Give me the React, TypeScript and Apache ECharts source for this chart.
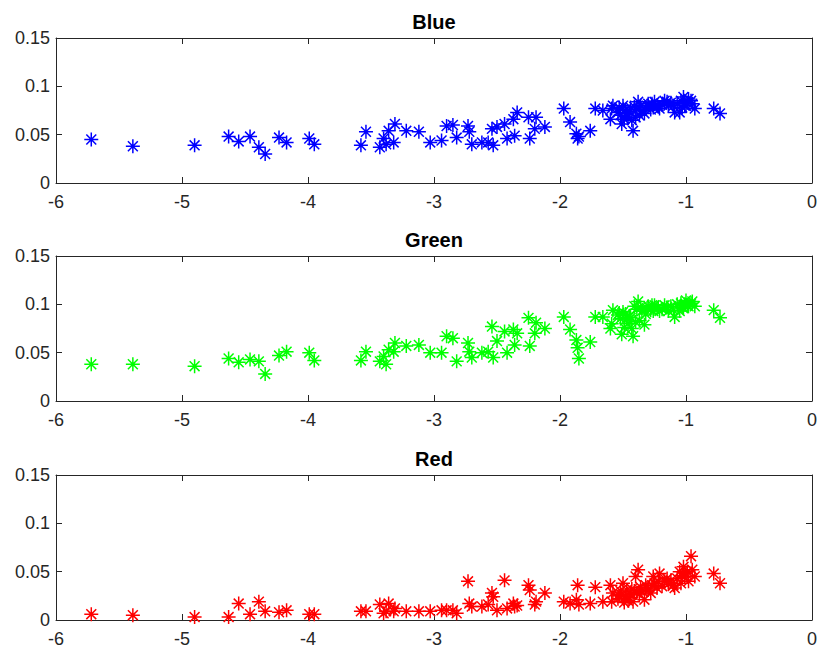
import React, { useEffect, useRef } from "react";
import * as echarts from "echarts";

// Shared x positions (log-scale abscissa) for the three colour channels
const xs = [
  -5.72, -5.39, -4.9, -4.63, -4.55, -4.46, -4.39, -4.34, -4.23, -4.17, -3.99, -3.95,
  -3.58, -3.54, -3.43, -3.4, -3.38, -3.36, -3.32, -3.31, -3.22, -3.12, -3.03, -2.94, -2.9, -2.85, -2.82,
  -2.73, -2.72, -2.7, -2.62, -2.57, -2.54, -2.53, -2.5, -2.44, -2.42, -2.37, -2.36, -2.34, -2.25, -2.24, -2.2, -2.19, -2.12,
  -1.97, -1.92, -1.87, -1.86, -1.85, -1.76, -1.72, -1.66, -1.6, -1.59,
  -1.58, -1.54, -1.52, -1.51, -1.5, -1.48, -1.47, -1.46, -1.44, -1.43,
  -1.42, -1.4, -1.39, -1.38, -1.36, -1.35, -1.33, -1.32, -1.3, -1.28,
  -1.26, -1.25, -1.23, -1.21, -1.19, -1.17, -1.14, -1.12, -1.09, -1.07,
  -1.05, -1.04, -1.02, -1.01, -1.0, -0.98, -0.96, -0.95, -0.93, -0.78,
  -0.73,
  -1.53, -1.49, -1.45, -1.41, -1.37, -1.31, -1.27, -1.22, -1.15, -1.1, -1.03, -0.99,
];

const blueVals = [
  0.045, 0.038, 0.039, 0.048, 0.043, 0.048, 0.037, 0.03, 0.047, 0.042, 0.046, 0.04,
  0.039, 0.053, 0.037, 0.046, 0.04, 0.054, 0.042, 0.061, 0.054, 0.053, 0.042, 0.044, 0.059, 0.06, 0.047,
  0.059, 0.053, 0.04, 0.042, 0.042, 0.056, 0.039, 0.058, 0.061, 0.046, 0.066, 0.049, 0.073, 0.068, 0.046, 0.056, 0.068, 0.058,
  0.077, 0.063, 0.051, 0.046, 0.048, 0.054, 0.077, 0.075, 0.066, 0.077,
  0.08, 0.073, 0.07, 0.061, 0.08, 0.075, 0.072, 0.068, 0.078, 0.065,
  0.054, 0.068, 0.076, 0.084, 0.08, 0.075, 0.072, 0.078, 0.082, 0.076,
  0.078, 0.084, 0.08, 0.077, 0.081, 0.085, 0.08, 0.083, 0.073, 0.082,
  0.073, 0.085, 0.089, 0.08, 0.08, 0.087, 0.085, 0.082, 0.077, 0.077,
  0.072,
  0.078, 0.066, 0.074, 0.079, 0.07, 0.08, 0.082, 0.079, 0.084, 0.08, 0.078, 0.083,
];

const greenVals = [
  0.038, 0.038, 0.036, 0.044, 0.04, 0.043, 0.041, 0.028, 0.047, 0.051, 0.05, 0.042,
  0.042, 0.051, 0.041, 0.046, 0.038, 0.053, 0.051, 0.06, 0.057, 0.058, 0.05, 0.05, 0.067, 0.065, 0.041,
  0.06, 0.051, 0.045, 0.05, 0.051, 0.077, 0.045, 0.062, 0.072, 0.05, 0.074, 0.058, 0.07, 0.086, 0.057, 0.07, 0.081, 0.075,
  0.087, 0.074, 0.063, 0.055, 0.044, 0.061, 0.087, 0.087, 0.075, 0.08,
  0.094, 0.089, 0.085, 0.069, 0.092, 0.09, 0.086, 0.08, 0.086, 0.075,
  0.067, 0.082, 0.095, 0.103, 0.097, 0.093, 0.079, 0.09, 0.098, 0.094,
  0.093, 0.099, 0.096, 0.093, 0.095, 0.099, 0.093, 0.098, 0.087, 0.1,
  0.093, 0.101, 0.096, 0.1, 0.104, 0.098, 0.101, 0.103, 0.098, 0.094,
  0.086,
  0.091, 0.076, 0.088, 0.098, 0.083, 0.096, 0.099, 0.097, 0.097, 0.094, 0.097, 0.099,
];

const redVals = [
  0.006, 0.005, 0.003, 0.003, 0.017, 0.006, 0.019, 0.009, 0.008, 0.01, 0.006, 0.006,
  0.009, 0.009, 0.016, 0.007, 0.009, 0.017, 0.009, 0.012, 0.009, 0.009, 0.009, 0.01, 0.01, 0.01, 0.007,
  0.04, 0.017, 0.014, 0.014, 0.016, 0.028, 0.024, 0.01, 0.041, 0.012, 0.017, 0.014, 0.015, 0.036, 0.031, 0.016, 0.019, 0.028,
  0.019, 0.017, 0.021, 0.036, 0.016, 0.017, 0.034, 0.019, 0.036, 0.019,
  0.028, 0.022, 0.03, 0.026, 0.038, 0.024, 0.031, 0.02, 0.026, 0.032,
  0.019, 0.045, 0.028, 0.052, 0.034, 0.03, 0.021, 0.036, 0.031, 0.028,
  0.045, 0.038, 0.033, 0.048, 0.035, 0.04, 0.037, 0.041, 0.033, 0.043,
  0.05, 0.038, 0.055, 0.045, 0.048, 0.04, 0.066, 0.052, 0.045, 0.048,
  0.038,
  0.025, 0.018, 0.023, 0.03, 0.027, 0.033, 0.036, 0.04, 0.043, 0.036, 0.046, 0.05,
];

const panelTitles = ["Blue", "Green", "Red"];
const panelColors = ["#0000ff", "#00ff00", "#ff0000"];
const panelValues = [blueVals, greenVals, redVals];

// Eight-armed asterisk marker, stroked only
const ASTERISK =
  "path://M0 -1L0 1M-1 0L1 0M-0.7071 -0.7071L0.7071 0.7071M-0.7071 0.7071L0.7071 -0.7071";

const AXIS_COLOR = "#262626";
const FONT = "'Liberation Sans', Arial, Helvetica, sans-serif";

const gridTops = [38, 256, 475];
const gridHeight = 145;
const gridLeft = 56;
const gridRight = 8;

export default function App() {
  const ref = useRef<HTMLDivElement>(null);

  useEffect(() => {
    if (!ref.current) return;
    const chart = echarts.init(ref.current, undefined, { renderer: "svg" });

    const grids: any[] = [];
    const xAxes: any[] = [];
    const yAxes: any[] = [];
    const series: any[] = [];
    const graphics: any[] = [];

    const tickStyle = { lineStyle: { color: AXIS_COLOR, width: 1 } };

    panelTitles.forEach((title, i) => {
      grids.push({
        left: gridLeft,
        right: gridRight,
        top: gridTops[i],
        height: gridHeight,
        containLabel: false,
      });

      const xBase = {
        type: "value",
        gridIndex: i,
        min: -6,
        max: 0,
        interval: 1,
        splitLine: { show: false },
        axisLine: { show: true, onZero: false, lineStyle: { color: AXIS_COLOR, width: 1 } },
        axisTick: { show: true, inside: true, length: 6, ...tickStyle },
      };
      xAxes.push({
        ...xBase,
        position: "bottom",
        axisLabel: {
          show: true,
          color: AXIS_COLOR,
          fontSize: 18,
          fontFamily: FONT,
          margin: 10,
        },
      });
      xAxes.push({ ...xBase, position: "top", axisLabel: { show: false } });

      const yBase = {
        type: "value",
        gridIndex: i,
        min: 0,
        max: 0.15,
        interval: 0.05,
        splitLine: { show: false },
        axisLine: { show: true, onZero: false, lineStyle: { color: AXIS_COLOR, width: 1 } },
        axisTick: { show: true, inside: true, length: 6, ...tickStyle },
      };
      yAxes.push({
        ...yBase,
        position: "left",
        axisLabel: {
          show: true,
          color: AXIS_COLOR,
          fontSize: 18,
          fontFamily: FONT,
          margin: 6,
        },
      });
      yAxes.push({ ...yBase, position: "right", axisLabel: { show: false } });

      const vals = panelValues[i];
      series.push({
        type: "scatter",
        name: title,
        xAxisIndex: 2 * i,
        yAxisIndex: 2 * i,
        data: xs.map((x, k) => [x, vals[k]]),
        symbol: ASTERISK,
        symbolSize: 14,
        itemStyle: {
          color: "rgba(0,0,0,0)",
          borderColor: panelColors[i],
          borderWidth: 1.5,
          opacity: 1,
        },
        emphasis: { disabled: true },
      });

      graphics.push({
        type: "text",
        x: gridLeft + (820 - gridLeft - gridRight) / 2,
        y: gridTops[i] - 16,
        style: {
          text: title,
          fill: "#000000",
          font: `bold 20px ${FONT}`,
          textAlign: "center",
          textVerticalAlign: "middle",
        },
      });
    });

    chart.setOption({
      animation: false,
      backgroundColor: "#ffffff",
      grid: grids,
      xAxis: xAxes,
      yAxis: yAxes,
      series,
      graphic: graphics,
    });

    return () => chart.dispose();
  }, []);

  return (
    <div
      ref={ref}
      style={{ position: "absolute", left: 0, top: 0, width: 820, height: 653 }}
    />
  );
}
